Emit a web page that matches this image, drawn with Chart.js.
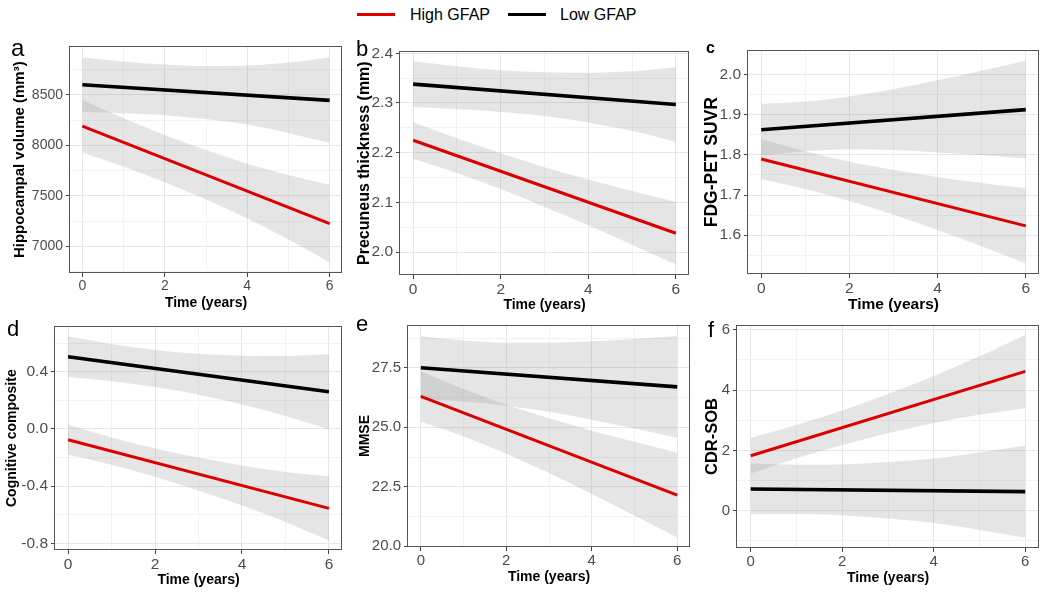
<!DOCTYPE html>
<html>
<head>
<meta charset="utf-8">
<script src="https://cdn.jsdelivr.net/npm/chart.js@4.4.1/dist/chart.umd.min.js"></script>
<style>
body { margin: 0; background: #fff; width: 1050px; height: 596px; position: relative; overflow: hidden;
       font-family: "Liberation Sans", Arial, sans-serif; }
canvas { position: absolute; }
.abs { position: absolute; line-height: 1; color: #000; white-space: nowrap; }
.key { position: absolute; height: 3px; width: 38px; }
</style>
</head>
<body>
<div class="key" style="left:357px;top:13px;background:#dd0000"></div>
<div class="abs" id="lg0" style="left:410px;top:7px;font-size:16px"></div>
<div class="key" style="left:508px;top:13px;background:#000"></div>
<div class="abs" id="lg1" style="left:560px;top:7px;font-size:16px"></div>
<script>
const seriesNames = ['High GFAP', 'Low GFAP'];
const timeLine = [0, 6];
const timeBand = [0, 1, 2, 3, 4, 5, 6];
const xTicks = [0, 2, 4, 6];

// a - hippocampal volume
const hippoTicks = [7000, 7500, 8000, 8500];
const hippoHigh = [8190, 7225];
const hippoLow = [8600, 8445];
const hippoHighUpper = [8450, 8269, 8103, 7953, 7817, 7706, 7610];
const hippoHighLower = [7930, 7789, 7633, 7463, 7277, 7066, 6840];
const hippoLowUpper = [8870, 8830, 8800, 8785, 8790, 8820, 8870];
const hippoLowLower = [8330, 8318, 8298, 8260, 8205, 8120, 8025];

// b - precuneus thickness
const precTicks = [2.0, 2.1, 2.2, 2.3, 2.4];
const precHigh = [2.225, 2.038];
const precLow = [2.338, 2.297];
const precHighUpper = [2.262, 2.229, 2.199, 2.171, 2.146, 2.123, 2.101];
const precHighLower = [2.188, 2.159, 2.127, 2.091, 2.054, 2.015, 1.975];
const precLowUpper = [2.384, 2.374, 2.366, 2.362, 2.361, 2.364, 2.372];
const precLowLower = [2.292, 2.288, 2.282, 2.274, 2.261, 2.244, 2.222];

// c - FDG-PET
const fdgTicks = [1.6, 1.7, 1.8, 1.9, 2.0];
const fdgHigh = [1.790, 1.623];
const fdgLow = [1.863, 1.913];
const fdgHighUpper = [1.840, 1.809, 1.783, 1.763, 1.745, 1.730, 1.717];
const fdgHighLower = [1.740, 1.715, 1.685, 1.651, 1.613, 1.572, 1.529];
const fdgLowUpper = [1.927, 1.933, 1.946, 1.964, 1.986, 2.010, 2.035];
const fdgLowLower = [1.799, 1.809, 1.814, 1.812, 1.806, 1.800, 1.791];

// d - cognitive composite
const cogTicks = [-0.8, -0.4, 0.0, 0.4];
const cogHigh = [-0.075, -0.555];
const cogLow = [0.505, 0.260];
const cogHighUpper = [0.029, -0.060, -0.137, -0.200, -0.255, -0.300, -0.330];
const cogHighLower = [-0.179, -0.250, -0.333, -0.430, -0.535, -0.650, -0.780];
const cogLowUpper = [0.646, 0.594, 0.553, 0.526, 0.512, 0.511, 0.522];
const cogLowLower = [0.364, 0.334, 0.293, 0.240, 0.172, 0.091, -0.002];

// e - MMSE
const mmseTicks = [20.0, 22.5, 25.0, 27.5];
const mmseHigh = [26.3, 22.15];
const mmseLow = [27.5, 26.7];
const mmseHighUpper = [27.36, 26.61, 25.95, 25.38, 24.86, 24.39, 23.93];
const mmseHighLower = [25.24, 24.61, 23.89, 23.08, 22.20, 21.29, 20.37];
const mmseLowUpper = [28.83, 28.65, 28.55, 28.55, 28.62, 28.71, 28.84];
const mmseLowLower = [26.17, 26.09, 25.91, 25.65, 25.32, 24.95, 24.56];

// f - CDR-SOB
const cdrTicks = [0, 2, 4, 6];
const cdrHigh = [1.82, 4.62];
const cdrLow = [0.72, 0.63];
const cdrHighUpper = [2.41, 2.84, 3.32, 3.87, 4.47, 5.12, 5.84];
const cdrHighLower = [1.23, 1.74, 2.18, 2.57, 2.91, 3.18, 3.40];
const cdrLowUpper = [1.56, 1.52, 1.53, 1.61, 1.73, 1.93, 2.16];
const cdrLowLower = [-0.12, -0.11, -0.15, -0.26, -0.41, -0.64, -0.90];

const RED = '#dd0000';
const BAND = 'rgba(153,153,153,0.25)';

// the six sub-figures were pasted at slightly different scales, so font sizes differ per panel
const panels = [
    { letter: 'a', lx: 11, ly: 36, ls: 24, title: 'Hippocampal volume (mm³)', ticks: hippoTicks, dec: 0,
      high: hippoHigh, low: hippoLow, hu: hippoHighUpper, hl: hippoHighLower, lu: hippoLowUpper, ll: hippoLowLower,
      box: { x: 70, y: 45, w: 272, h: 228 }, titleX: 20, yMin: 6735, yMax: 8980, tick: 14, yt: 15, xt: 14 },
    { letter: 'b', lx: 356, ly: 38, ls: 22, title: 'Precuneus thickness (mm)', ticks: precTicks, dec: 1,
      high: precHigh, low: precLow, hu: precHighUpper, hl: precHighLower, lu: precLowUpper, ll: precLowLower,
      box: { x: 400, y: 49, w: 289, h: 226 }, titleX: 365, yMin: 1.954, yMax: 2.404, tick: 15.5, yt: 16, xt: 14 },
    { letter: 'c', lx: 706, ly: 40, ls: 16, bold: true, title: 'FDG-PET SUVR', ticks: fdgTicks, dec: 1,
      high: fdgHigh, low: fdgLow, hu: fdgHighUpper, hl: fdgHighLower, lu: fdgLowUpper, ll: fdgLowLower,
      box: { x: 748, y: 48, w: 291, h: 226 }, titleX: 712, yMin: 1.503, yMax: 2.061, tick: 15.5, yt: 17.5, xt: 15.5 },
    { letter: 'd', lx: 7, ly: 318, ls: 22, title: 'Cognitive composite', ticks: cogTicks, dec: 1,
      high: cogHigh, low: cogLow, hu: cogHighUpper, hl: cogHighLower, lu: cogLowUpper, ll: cogLowLower,
      box: { x: 55, y: 324, w: 287, h: 226 }, titleX: 12, yMin: -0.846, yMax: 0.718, tick: 15.5, yt: 14, xt: 14 },
    { letter: 'e', lx: 356, ly: 313, ls: 22, title: 'MMSE', ticks: mmseTicks, dec: 1,
      high: mmseHigh, low: mmseLow, hu: mmseHighUpper, hl: mmseHighLower, lu: mmseLowUpper, ll: mmseLowLower,
      box: { x: 408, y: 323, w: 282, h: 224 }, titleX: 365, yMin: 19.97, yMax: 29.3, tick: 15, yt: 14, xt: 14 },
    { letter: 'f', lx: 708, ly: 319, ls: 22, title: 'CDR-SOB', ticks: cdrTicks, dec: 0,
      high: cdrHigh, low: cdrLow, hu: cdrHighUpper, hl: cdrHighLower, lu: cdrLowUpper, ll: cdrLowLower,
      box: { x: 737, y: 323, w: 302, h: 225 }, titleX: 713, yMin: -1.24, yMax: 6.16, tick: 15, yt: 16.5, xt: 14 }
];

// frame round the plot area, drawn over the data like a ggplot panel border
const framePlugin = {
    id: 'frame',
    afterDatasetsDraw(chart) {
        const a = chart.chartArea;
        const ctx = chart.ctx;
        ctx.save();
        ctx.strokeStyle = '#555';
        ctx.lineWidth = 1;
        ctx.strokeRect(Math.round(a.left) - 0.5, Math.round(a.top) + 0.5,
            Math.round(a.right - a.left), Math.round(a.bottom - a.top) - 1);
        ctx.restore();
    }
};

// majors plus the half-way minors that fall inside the range
function gridTicks(major, min, max) {
    const step = major[1] - major[0];
    const out = [];
    major.forEach((v, i) => {
        if (i === 0 && v - step / 2 >= min) out.push({ value: v - step / 2, isMinor: true });
        out.push({ value: v, isMinor: false });
        if (v + step / 2 <= max) out.push({ value: v + step / 2, isMinor: true });
    });
    return out;
}

function gridOptions() {
    return {
        color: c => (c.tick && c.tick.isMinor) ? '#f2f2f2' : '#e6e6e6',
        tickColor: c => (c.tick && c.tick.isMinor) ? 'rgba(0,0,0,0)' : '#444',
        tickLength: 4,
        lineWidth: 1
    };
}

function pts(xs, ys) {
    return xs.map((x, i) => ({ x: x, y: ys[i] }));
}

function lineSet(label, data, color, width) {
    return { label: label, data: data, borderColor: color, borderWidth: width, pointRadius: 0, fill: false };
}

function bandSet(data, fill) {
    return { data: data, borderColor: 'rgba(0,0,0,0)', borderWidth: 0, pointRadius: 0,
             backgroundColor: BAND, fill: fill, cubicInterpolationMode: 'monotone' };
}

function makePanel(p) {
    const canvasLeft = Math.round(p.titleX - 0.6 * p.yt);
    const yw = p.box.x - canvasLeft;
    const xh = Math.round(31 + 0.6 * p.xt);
    const canvas = document.createElement('canvas');
    canvas.width = yw + p.box.w + 3;
    canvas.height = p.box.h + 10 + xh;
    canvas.style.left = canvasLeft + 'px';
    canvas.style.top = (p.box.y - 10) + 'px';
    document.body.appendChild(canvas);

    const lab = document.createElement('div');
    lab.className = 'abs';
    lab.textContent = p.letter;
    lab.style.left = p.lx + 'px';
    lab.style.top = p.ly + 'px';
    lab.style.fontSize = p.ls + 'px';
    if (p.bold) lab.style.fontWeight = 'bold';
    document.body.appendChild(lab);

    new Chart(canvas, {
        type: 'line',
        data: {
            datasets: [
                lineSet(seriesNames[0], pts(timeLine, p.high), RED, 3),
                lineSet(seriesNames[1], pts(timeLine, p.low), '#000', 3.6),
                bandSet(pts(timeBand, p.hu), '+1'),
                bandSet(pts(timeBand, p.hl), false),
                bandSet(pts(timeBand, p.lu), '+1'),
                bandSet(pts(timeBand, p.ll), false)
            ]
        },
        options: {
            responsive: false,
            animation: false,
            layout: { padding: { top: 10, right: 3, left: 0, bottom: 0 } },
            plugins: { legend: { display: false }, tooltip: { enabled: false } },
            scales: {
                x: {
                    type: 'linear', min: -0.3, max: 6.3,
                    afterBuildTicks: s => { s.ticks = gridTicks(xTicks, -0.3, 6.3); },
                    afterFit: s => { s.height = xh; },
                    grid: gridOptions(),
                    border: { display: false },
                    ticks: { color: '#4d4d4d', font: { size: p.tick }, padding: 1, maxRotation: 0, autoSkip: false,
                             callback: (v, i, t) => t[i].isMinor ? '' : String(v) },
                    title: { display: true, text: 'Time (years)', color: '#000', padding: 0,
                             font: { size: p.xt, weight: 'bold' } }
                },
                y: {
                    type: 'linear', min: p.yMin, max: p.yMax,
                    afterBuildTicks: s => { s.ticks = gridTicks(p.ticks, p.yMin, p.yMax); },
                    afterFit: s => { s.width = yw; },
                    grid: gridOptions(),
                    border: { display: false },
                    ticks: { color: '#4d4d4d', font: { size: p.tick }, padding: 3, autoSkip: false,
                             callback: (v, i, t) => t[i].isMinor ? '' : v.toFixed(p.dec) },
                    title: { display: true, text: p.title, color: '#000', padding: 0,
                             font: { size: p.yt, weight: 'bold' } }
                }
            }
        },
        plugins: [framePlugin]
    });
}

Chart.defaults.font.family = '"Liberation Sans", Arial, sans-serif';
document.getElementById('lg0').textContent = seriesNames[0];
document.getElementById('lg1').textContent = seriesNames[1];
panels.forEach(makePanel);
</script>
</body>
</html>
